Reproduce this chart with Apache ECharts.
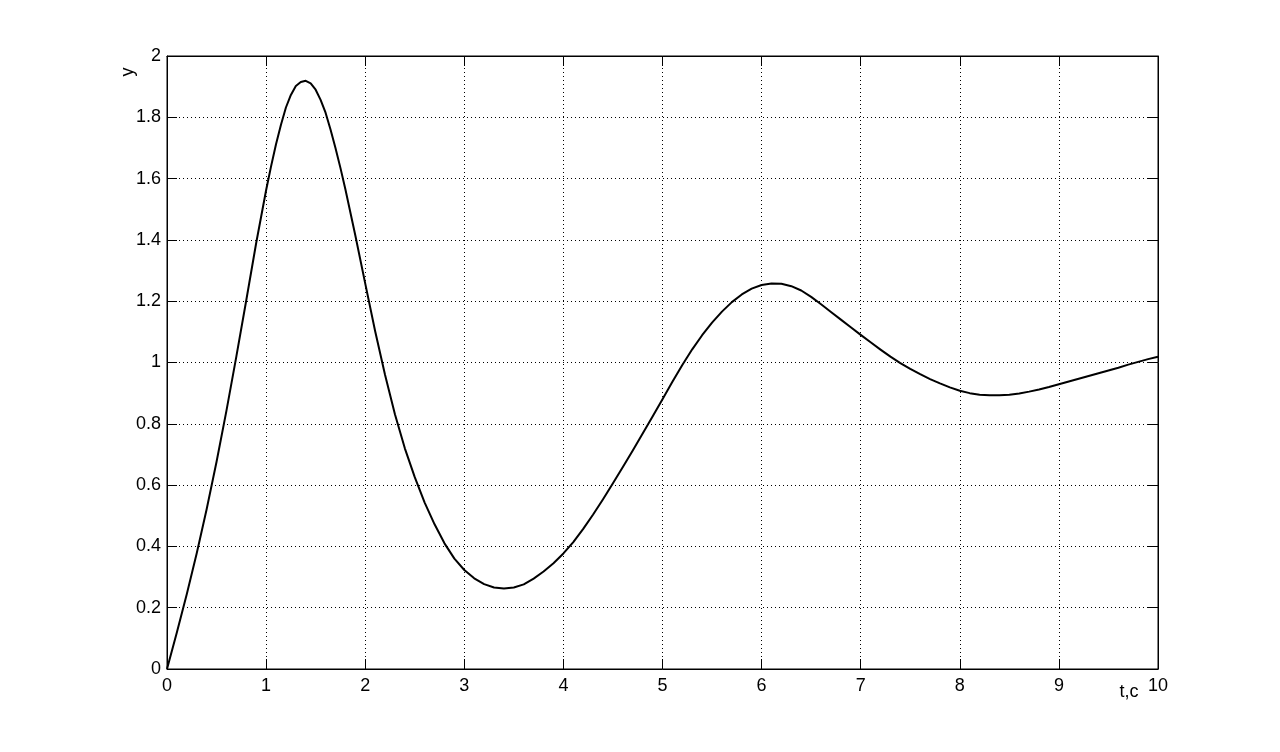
<!DOCTYPE html>
<html>
<head>
<meta charset="utf-8">
<script src="https://cdn.jsdelivr.net/npm/echarts@6/dist/echarts.min.js"></script>
<style>
html,body{margin:0;padding:0;background:#fff;}
#chart{width:1280px;height:752px;}
</style>
</head>
<body>
<div id="chart"></div>
<script>
const tValues = [0,0.1,0.2,0.3,0.4,0.5,0.6,0.7,0.8,0.9,1.0,1.05,1.1,1.15,1.2,1.25,1.3,1.35,1.4,1.45,1.5,1.55,1.6,1.65,1.7,1.75,1.8,1.9,2.0,2.1,2.2,2.3,2.4,2.5,2.6,2.7,2.8,2.9,3.0,3.1,3.2,3.3,3.4,3.5,3.6,3.7,3.8,3.9,4.0,4.1,4.2,4.3,4.4,4.5,4.6,4.7,4.8,4.9,5.0,5.1,5.2,5.3,5.4,5.5,5.6,5.7,5.8,5.9,6.0,6.1,6.2,6.3,6.4,6.5,6.6,6.7,6.8,6.9,7.0,7.1,7.2,7.3,7.4,7.5,7.6,7.7,7.8,7.9,8.0,8.1,8.2,8.3,8.4,8.5,8.6,8.7,8.8,8.9,9.0,9.1,9.2,9.3,9.4,9.5,9.6,9.7,9.8,9.9,10.0];
const yValues = [0,0.12,0.245,0.378,0.521,0.676,0.843,1.02,1.203,1.39,1.562,1.64,1.712,1.776,1.832,1.873,1.902,1.915,1.919,1.911,1.89,1.857,1.815,1.76,1.70,1.635,1.565,1.415,1.258,1.103,0.96,0.831,0.72,0.626,0.543,0.472,0.41,0.36,0.323,0.296,0.277,0.266,0.263,0.266,0.276,0.295,0.318,0.345,0.377,0.414,0.457,0.504,0.554,0.606,0.659,0.713,0.768,0.824,0.88,0.937,0.992,1.043,1.089,1.13,1.166,1.197,1.222,1.241,1.253,1.258,1.257,1.249,1.235,1.214,1.19,1.165,1.14,1.115,1.09,1.066,1.042,1.019,0.998,0.979,0.962,0.946,0.932,0.919,0.908,0.90,0.895,0.893,0.893,0.895,0.899,0.905,0.912,0.92,0.929,0.938,0.947,0.956,0.965,0.974,0.983,0.993,1.002,1.011,1.019];
const xAxisName = 't,c';
const yAxisName = 'y';

const FONT = 'Liberation Sans, Arial, Helvetica, sans-serif';
const chart = echarts.init(document.getElementById('chart'), null, {renderer:'canvas'});
const axisLineStyle = {show:true, onZero:false, lineStyle:{color:'#000', width:1}};
const tickStyle = {show:true, inside:true, length:10, lineStyle:{color:'#000', width:1}};
const gridLine = {show:true, lineStyle:{color:'#000', width:1, type:[1,3]}};
const labelStyle = {color:'#000', fontSize:18, fontFamily:FONT};

chart.setOption({
  animation:false,
  backgroundColor:'#fff',
  grid:{left:167, right:122, top:56, bottom:83, show:true, borderColor:'#000', borderWidth:1, backgroundColor:'#fff'},
  xAxis:[
    {type:'value', min:0, max:10, interval:1, position:'bottom',
     axisLine:axisLineStyle, axisTick:tickStyle,
     axisLabel:Object.assign({margin:8}, labelStyle),
     splitLine:gridLine},
    {type:'value', min:0, max:10, interval:1, position:'top',
     axisLine:axisLineStyle, axisTick:tickStyle,
     axisLabel:{show:false}, splitLine:{show:false}}
  ],
  yAxis:[
    {type:'value', min:0, max:2, interval:0.2, position:'left',
     axisLine:axisLineStyle, axisTick:tickStyle,
     axisLabel:Object.assign({margin:6}, labelStyle),
     splitLine:gridLine},
    {type:'value', min:0, max:2, interval:0.2, position:'right',
     axisLine:axisLineStyle, axisTick:tickStyle,
     axisLabel:{show:false}, splitLine:{show:false}}
  ],
  graphic:[
    {type:'text', x:1129, y:692, style:{text:xAxisName, fill:'#000', font:'18px '+FONT, textAlign:'center', textVerticalAlign:'middle'}},
    {type:'text', x:128, y:72, rotation:Math.PI/2, style:{text:yAxisName, fill:'#000', font:'18px '+FONT, textAlign:'center', textVerticalAlign:'middle'}}
  ],
  series:[{
    type:'line',
    xAxisIndex:0, yAxisIndex:0,
    data:tValues.map((t,i)=>[t, yValues[i]]),
    showSymbol:false, symbol:'none', smooth:false,
    lineStyle:{color:'#000', width:2, join:'round'},
    z:5
  }]
});
</script>
</body>
</html>
